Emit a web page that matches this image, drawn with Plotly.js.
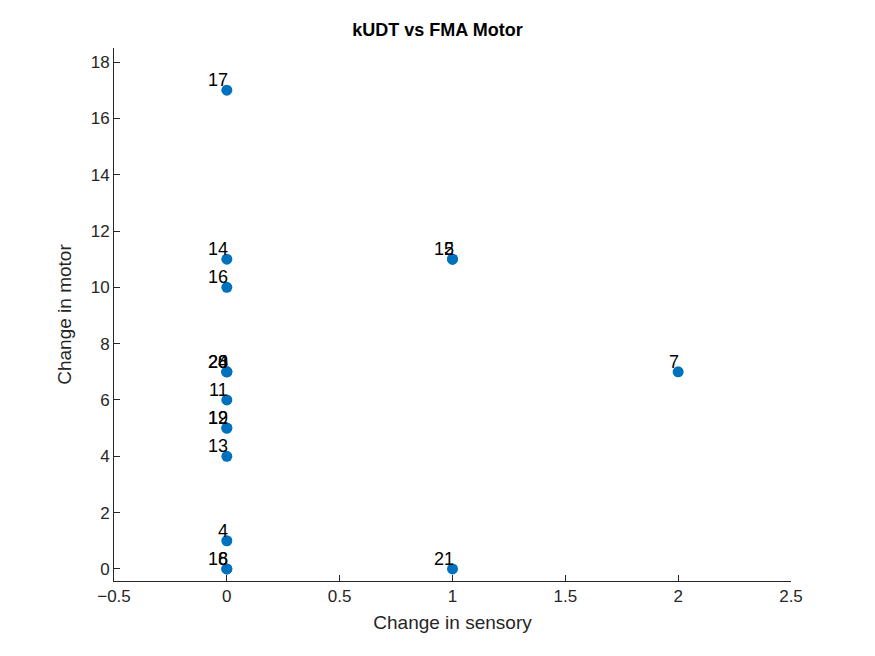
<!DOCTYPE html>
<html><head><script src="https://cdn.plot.ly/plotly-3.0.1.min.js"></script></head>
<body style="margin:0"><div id="p" style="width:875px;height:656px"></div>
<script>
const sensory = [0,0,0,0,0,0,0,0,0,0,0,0,0,1,1,2,1];
const motor   = [17,11,10,7,7,7,6,5,5,4,1,0,0,11,11,7,0];
const labels  = ['17','14','16','20','24','8','11','19','12','13','4','18','6','15','2','7','21'];
const F = 'Arial, Liberation Sans, sans-serif';
Plotly.newPlot('p',[{
  x: sensory, y: motor, mode:'markers', type:'scatter',
  marker:{color:'#0072BD', size:11}, cliponaxis:false, hoverinfo:'none'
}],{
  width:875, height:656, showlegend:false, plot_bgcolor:'#fff', paper_bgcolor:'#fff',
  margin:{l:114, r:84, t:48, b:75},
  annotations: sensory.map((s,i)=>({x:s, y:motor[i], text:labels[i], showarrow:false, xanchor:'right', yanchor:'bottom', xshift:3, yshift:-2, font:{family:F, size:18, color:'#000'}})),
  title:{text:'<b>kUDT vs FMA Motor</b>', x:0.5, xanchor:'center', y:0.965, font:{family:F, size:18, color:'#000'}},
  xaxis:{range:[-0.5,2.5], dtick:0.5, tickformat:'.1~f', showgrid:false, zeroline:false, showline:true, linecolor:'#262626', ticks:'inside', ticklen:6, tickcolor:'#262626',
    title:{text:'Change in sensory', font:{family:F, size:19, color:'#262626'}, standoff:10},
    tickfont:{family:F, size:17, color:'#262626'}},
  yaxis:{range:[-0.43,18.5], dtick:2, showgrid:false, zeroline:false, showline:true, linecolor:'#262626', ticks:'inside', ticklen:6, tickcolor:'#262626',
    title:{text:'Change in motor', font:{family:F, size:19, color:'#262626'}, standoff:14},
    tickfont:{family:F, size:17, color:'#262626'}}
},{displayModeBar:false});
</script></body></html>
